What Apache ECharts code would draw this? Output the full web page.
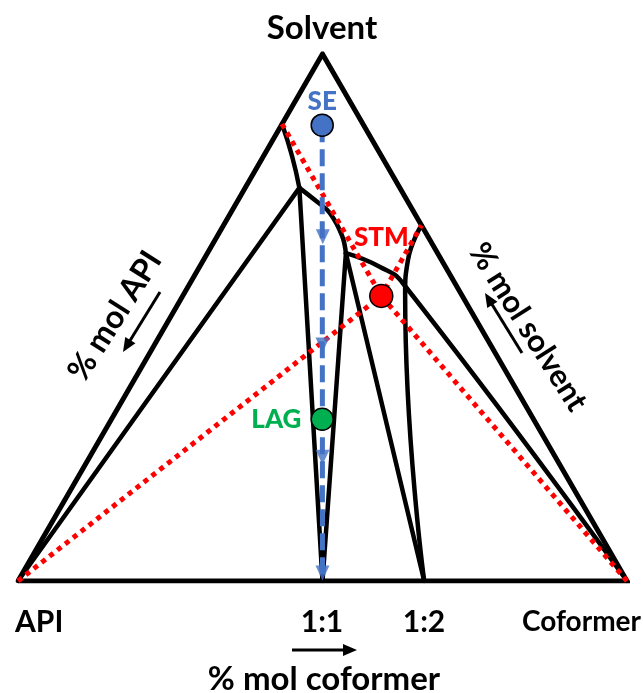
<!DOCTYPE html>
<html>
<head>
<meta charset="utf-8">
<script src="https://cdn.jsdelivr.net/npm/echarts@6/dist/echarts.min.js"></script>
<style>html,body{margin:0;padding:0;background:#fff}#c{width:643px;height:693px}</style>
</head>
<body>
<div id="c"></div>
<script>
// Compositions as [mole fraction coformer, mole fraction solvent]; API = 1 - both
const triangle = [[0,0],[1,0],[0,1],[0,0]];
const boundaryTopLeft = [[0,0.867],[0.0467,0.8065],[0.089,0.746]];
const boundaryApiLine = [[0.089,0.746],[0,0]];
const boundaryCoc11Left = [[0.089,0.746],[0.5,0]];
const boundaryArc = [[0.089,0.746],[0.1306,0.720],[0.1632,0.698],[0.2047,0.655],[0.2274,0.622]];
const boundaryCoc11Right = [[0.2274,0.622],[0.5,0]];
const boundaryCoc12Left = [[0.2274,0.622],[0.667,0]];
const boundaryCoformer = [[0.2274,0.622],[0.2965,0.596],[0.3495,0.565],[1,0]];
const boundaryCoc12Right = [[0.325,0.675],[0.3358,0.609],[0.3642,0.543],[0.667,0]];
const redPathApi = [[0,0],[0.326,0.541],[0.325,0.675]];
const redPathCoformer = [[1,0],[0.326,0.541],[0,0.867]];
const bluePath = [[0.067,0.865],[0.5,0]];
const blueArrowHeads = [[0.174,0.653],[0.276,0.448],[0.3825,0.235],[0.4925,0.015]];
const expPoints = [
  {name:'SE', comp:[0.067,0.865], color:'#4472C4'},
  {name:'STM', comp:[0.326,0.541], color:'#FF0000'},
  {name:'LAG', comp:[0.346,0.307], color:'#00B050'}
];
const vertexLabels = ['API','Coformer','Solvent'];
const ratioLabels = ['1:1','1:2'];
const axisTitles = ['% mol API','% mol solvent','% mol coformer'];

function tern(p){ return [p[0] + p[1]/2, p[1]]; }
const F = 'Lato, "Open Sans", sans-serif';

function blackLine(data, smooth){
  return {type:'line', data:data.map(tern), showSymbol:false, symbol:'none', smooth:smooth||false,
    lineStyle:{color:'#000', width:4.5, join:'round', cap:'round'}, z:2, silent:true, animation:false};
}
function arrow(x1,y1,x2,y2){
  const dx=x2-x1, dy=y2-y1, L=Math.hypot(dx,dy), ux=dx/L, uy=dy/L;
  const h=14, w=6;
  const bx=x2-ux*h, by=y2-uy*h;
  return [
    {type:'line', shape:{x1:x1,y1:y1,x2:bx+ux*2,y2:by+uy*2}, style:{stroke:'#000', lineWidth:3}},
    {type:'polygon', shape:{points:[[x2,y2],[bx-uy*w,by+ux*w],[bx+uy*w,by-ux*w]]}, style:{fill:'#000'}}
  ];
}
function txt(t,x,y,size,opts){
  opts=opts||{};
  return {type:'text', x:x, y:y, rotation:opts.rot||0,
    style:{text:t, fontSize:size, fontWeight:'bold', fontFamily:F, fill:'#000',
      align:opts.align||'center', verticalAlign:'middle'}};
}

const chart = echarts.init(document.getElementById('c'), null, {renderer:'canvas'});
const series = [
  {type:'line', data:triangle.map(tern), showSymbol:false, symbol:'none',
    lineStyle:{color:'#000', width:5, join:'miter'}, z:2, silent:true, animation:false},
  blackLine(boundaryTopLeft, 0.5),
  blackLine(boundaryApiLine),
  blackLine(boundaryCoc11Left),
  blackLine(boundaryArc, 0.4),
  blackLine(boundaryCoc11Right),
  blackLine(boundaryCoc12Left),
  blackLine(boundaryCoformer, 0.5),
  blackLine(boundaryCoc12Right, 0.5),
  {type:'line', data:redPathApi.map(tern), showSymbol:false, symbol:'none',
    lineStyle:{color:'#FF0000', width:5, type:[5,5], cap:'butt'}, z:3, silent:true, animation:false},
  {type:'line', data:redPathCoformer.map(tern), showSymbol:false, symbol:'none',
    lineStyle:{color:'#FF0000', width:5, type:[5,5], cap:'butt'}, z:3, silent:true, animation:false},
  {type:'line', data:bluePath.map(tern), showSymbol:false, symbol:'none',
    lineStyle:{color:'#4472C4', width:5, type:[17,7], cap:'butt'}, z:4, silent:true, animation:false},
  {type:'scatter', data:blueArrowHeads.map(tern), symbol:'triangle', symbolRotate:180, symbolSize:[14,15],
    itemStyle:{color:'#4472C4'}, z:4, silent:true, animation:false},
  {type:'scatter', z:5, silent:true, animation:false,
    data: expPoints.map(p=>({value:tern(p.comp), name:p.name,
      symbolSize: p.name==='STM'?23:22,
      itemStyle:{color:p.color, borderColor:'#000', borderWidth:1.5, opacity:1},
      label:{show:true, formatter:p.name, color:p.color, fontFamily:F, fontWeight:900, fontSize:26,
        textBorderWidth:0, opacity:1,
        position: p.name==='LAG'?'left':'top', distance: p.name==='STM'?33:(p.name==='LAG'?9:-1)}
    }))}
];

const graphic = [
  txt(vertexLabels[2], 322, 28, 33),
  txt(vertexLabels[0], 15, 622, 30, {align:'left'}),
  txt(vertexLabels[1], 641, 622, 28, {align:'right'}),
  txt(ratioLabels[0], 322, 622, 30),
  txt(ratioLabels[1], 424, 622, 30),
  txt(axisTitles[2], 324, 679, 33),
  txt(axisTitles[0], 115, 316, 32, {rot:Math.PI*0.32}),
  txt(axisTitles[1], 528, 327, 31, {rot:-Math.PI*0.32})
].concat(arrow(292,650,357,650), arrow(160,292,123,352), arrow(522,353,485,293));

chart.setOption({
  animation:false,
  grid:{left:18, right:16, top:54, bottom:112},
  xAxis:{type:'value', min:0, max:1, show:false},
  yAxis:{type:'value', min:0, max:1, show:false},
  series: series,
  graphic: graphic
});
</script>
</body>
</html>
